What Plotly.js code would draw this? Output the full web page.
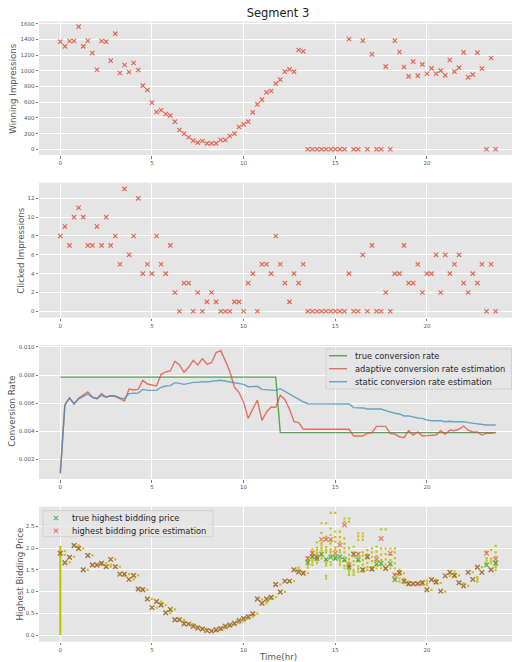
<!DOCTYPE html>
<html><head><meta charset="utf-8">
<script src="https://cdn.plot.ly/plotly-3.0.1.min.js"></script>
<style>html,body{margin:0;padding:0;background:#fff}#chart{width:512px;height:662px}</style>
</head><body><div id="chart"></div>
<script>
// ---------- data ----------
const timeHours = [0,0.25,0.5,0.75,1,1.25,1.5,1.75,2,2.25,2.5,2.75,3,3.25,3.5,3.75,4,4.25,4.5,4.75,5,5.25,5.5,5.75,
6,6.25,6.5,6.75,7,7.25,7.5,7.75,8,8.25,8.5,8.75,9,9.25,9.5,9.75,10,10.25,10.5,10.75,11,11.25,11.5,11.75,
12,12.25,12.5,12.75,13,13.25,13.5,13.75,14,14.25,14.5,14.75,15,15.25,15.5,15.75,16,16.25,16.5,16.75,17,17.25,17.5,17.75,
18,18.25,18.5,18.75,19,19.25,19.5,19.75,20,20.25,20.5,20.75,21,21.25,21.5,21.75,22,22.25,22.5,22.75,23,23.25,23.5,23.75];

const winningImpressions = [1371,1311,1379,1379,1562,1311,1383,1226,1014,1379,1371,1129,1473,972,1074,985,1099,1010,811,755,594,475,497,450,
429,352,246,199,153,110,85,106,76,76,76,119,119,170,199,284,318,352,471,573,632,726,743,836,
887,989,1019,989,1265,1248,0,0,0,0,0,0,0,0,0,1405,0,0,1384,0,1210,0,0,1053,
0,1384,1239,1048,929,1116,938,1082,963,1031,963,1002,942,1137,989,1040,1235,917,951,1231,1027,0,1163,0];

const clickedImpressions = [8,9,7,10,11,10,7,7,9,7,10,7,8,5,13,6,8,12,4,5,4,8,5,4,
7,2,0,3,3,0,2,0,1,2,1,0,0,0,1,1,0,3,4,0,5,5,4,8,
5,3,1,4,3,5,0,0,0,0,0,0,0,0,0,4,0,0,6,0,7,0,0,2,
0,4,4,7,3,3,5,2,4,4,6,2,6,4,5,6,3,2,4,3,5,0,5,0];

const trueRateTime = [0, 11.75, 12, 23.75];
const trueRate = [0.00785, 0.00785, 0.0039, 0.0039];

const adaptiveRate = [0.0010,0.00587,0.00637,0.00594,0.00634,0.00658,0.0068,0.00642,0.00632,0.00668,0.00644,0.00653,
0.00649,0.00632,0.00615,0.00701,0.00694,0.00698,0.00763,0.00736,0.00727,0.00722,0.00805,0.00822,
0.00829,0.00898,0.00872,0.0082,0.00855,0.00905,0.00872,0.00917,0.00877,0.00888,0.0096,0.00974,
0.00903,0.00824,0.00713,0.00675,0.00608,0.00492,0.00558,0.00622,0.00478,0.00537,0.00573,0.0057,
0.00656,0.00627,0.00558,0.00468,0.00461,0.00416,0.00414,0.00414,0.00414,0.00414,0.00414,0.00414,
0.00414,0.00414,0.00414,0.00414,0.00366,0.00364,0.00366,0.00385,0.0039,0.00435,0.00435,0.00435,
0.00385,0.0038,0.00361,0.00354,0.00404,0.00373,0.00395,0.00366,0.00369,0.00371,0.00373,0.00404,
0.00378,0.00409,0.00404,0.00416,0.00437,0.00407,0.00395,0.00395,0.00373,0.00385,0.00385,0.00392];

const staticRate = [0.0010,0.00587,0.00637,0.00594,0.0063,0.0065,0.00665,0.00642,0.00632,0.00656,0.00642,0.00653,
0.00649,0.00637,0.00632,0.00668,0.00668,0.00672,0.00698,0.00691,0.00691,0.00691,0.00713,0.00722,
0.00725,0.00746,0.00741,0.00734,0.00741,0.00748,0.00748,0.00753,0.00751,0.00753,0.0076,0.00763,
0.00758,0.00751,0.00746,0.00741,0.00734,0.00717,0.0072,0.0072,0.00698,0.00696,0.00696,0.00691,
0.00703,0.00684,0.00663,0.00642,0.00627,0.0061,0.00596,0.00596,0.00596,0.00596,0.00596,0.00596,
0.00596,0.00596,0.00596,0.00594,0.00568,0.00568,0.00566,0.00558,0.00558,0.00558,0.00558,0.00547,
0.00537,0.00528,0.00523,0.00509,0.00509,0.00501,0.00494,0.00492,0.0048,0.00475,0.00475,0.00475,
0.00468,0.00471,0.00468,0.00468,0.00468,0.00461,0.00456,0.00454,0.00444,0.00444,0.00444,0.00444];

const trueBid = [1.88,1.66,1.79,2.06,1.99,1.50,1.83,1.61,1.61,1.65,1.57,1.74,1.57,1.40,1.40,1.28,1.37,1.06,1.04,0.83,0.63,0.77,0.69,0.51,
0.59,0.35,0.35,0.26,0.25,0.20,0.16,0.14,0.10,0.09,0.12,0.15,0.20,0.23,0.27,0.34,0.38,0.42,0.49,0.83,0.73,0.83,0.87,1.16,
0.99,1.24,1.24,1.50,1.45,1.42,1.67,1.80,1.76,1.86,1.74,1.79,1.76,1.80,1.73,1.56,1.86,1.73,1.50,1.80,1.52,1.63,1.65,1.53,
1.64,1.27,1.43,1.24,1.18,1.18,1.18,1.20,1.04,1.27,1.22,1.01,1.36,1.44,1.37,1.20,1.13,1.44,1.28,1.56,1.44,1.61,1.50,1.65];

const estBid = [1.88,1.66,1.79,2.06,1.99,1.50,1.83,1.61,1.61,1.65,1.57,1.74,1.57,1.40,1.40,1.28,1.37,1.06,1.04,0.83,0.63,0.77,0.69,0.51,
0.59,0.35,0.35,0.26,0.25,0.20,0.16,0.14,0.10,0.09,0.12,0.15,0.20,0.23,0.27,0.32,0.38,0.42,0.49,0.83,0.73,0.83,0.87,1.16,
0.99,1.24,1.24,1.50,1.45,1.42,1.76,1.88,1.80,2.20,2.20,2.20,1.88,2.07,2.53,1.61,1.86,1.86,1.50,1.80,1.52,1.75,2.22,1.53,
1.88,1.38,1.43,1.24,1.18,1.18,1.18,1.20,1.04,1.27,1.22,1.01,1.36,1.44,1.37,1.20,1.13,1.44,1.28,1.56,1.44,1.88,1.50,1.75];

// observed bid samples (yellow dots), one list per time step from 0.25 h on
const bidSampleValues = [
[1.93,1.84],[1.67],[1.80],[2.06,2.01],[1.99],[1.50],[1.83],[1.61],[1.61,1.66],[1.65],[1.57,1.62],[1.74],
[1.57],[1.40,1.36],[1.40],[1.28],[1.37],[1.06],[1.04],[0.83],[0.63],[0.77,0.72],[0.69],[0.51,0.56],
[0.59],[0.35],[0.35,0.31],[0.26],[0.25],[0.20],[0.16],[0.14],[0.10],[0.09],[0.12],[0.15],
[0.20],[0.23],[0.27],[0.32],[0.38],[0.42,0.47],[0.49],[0.82],[0.73,0.77],[0.83],[0.87],[1.16],
[0.99],[1.24],[1.24],[1.50,1.55],[1.45],
[1.42,1.55,1.61,1.67,1.73,1.79],
[1.61,1.67,1.73,1.79,1.85,1.91,1.97],
[1.65,1.71,1.77,1.83,1.89,1.95,2.01,2.13],
[1.76,1.82,1.88,1.94,2.00,2.06,2.12,2.35,2.57],
[1.30,1.36,1.60,1.66,1.72,1.90,1.96,2.02,2.20,2.26,2.57],
[1.61,1.67,1.85,1.91,1.97,2.10,2.16,2.30,2.45,2.81],
[1.76,1.82,1.95,2.01,2.15,2.25,2.38,2.81],
[1.61,1.67,1.73,1.90,1.96,2.15,2.25,2.38],
[1.53,1.59,1.70,1.80,1.90,2.00,2.10,2.22,2.61,2.68],
[1.38,1.44,1.50,1.56,1.62,1.68,1.75,1.85,2.00,2.61,2.68],
[1.38,1.44,1.50,1.61,1.70,1.80,1.90,2.03],
[1.46,1.52,1.58,1.70,1.80,1.88,2.19,2.27,2.34],
[1.46,1.52,1.62,1.72,1.82,1.90,2.19,2.27,2.34],
[1.50,1.56,1.66,1.76,1.86,1.95],
[1.50,1.56,1.70,1.80,1.90,1.99],
[1.53,1.60,1.70,1.82,1.92,2.03],
[1.53,1.60,1.72,1.85,1.99,2.43],
[1.53,1.62,1.74,1.86,1.99,2.43],
[1.53,1.60,1.72,1.84,1.99],
[1.30,1.40,1.53,1.65,1.77,1.90,1.99],
[1.23,1.30,1.38,1.46,1.50],
[1.19,1.25,1.30,1.42],
[1.15,1.19,1.23],[1.19],[1.19],[1.15,1.19,1.23],[1.14,1.19,1.25],[1.04],[1.19,1.23,1.27],[1.20],
[1.00],[1.36,1.42],[1.34,1.40,1.46],[1.37],[1.19],[1.13],[1.44],[1.23,1.28,1.33],[1.56],
[1.65,1.71,1.77,1.92],[1.65,1.71,1.76,1.95],[1.50,1.56,1.62,1.68,1.80,1.90,2.05]];
// bid samples at 0 h span this range (drawn as a solid column)
const bidSpikeTime = [0, 0];
const bidSpikeValue = [0, 2.05];

const rateLegendLabels = ['true conversion rate', 'adaptive conversion rate estimation', 'static conversion rate estimation'];
const bidLegendLabels = ['true highest bidding price', 'highest bidding price estimation'];

// ---------- helpers ----------
const W = 512, H = 662;
const FONT = 'DejaVu Sans, Verdana, sans-serif';
const dom = (top, bottom) => [1 - bottom / H, 1 - top / H];
const px = v => v / W, py = v => 1 - v / H;
const sampleX = [], sampleY = [];
const sampleTimes = timeHours.slice(1);
bidSampleValues.forEach((vals, i) => vals.forEach(v => { sampleX.push(sampleTimes[i]); sampleY.push(v); }));

function xAxis(anchor) {
  return {domain: [39 / W, 1], range: [-1.162, 24.64], anchor: anchor,
    tickmode: 'linear', tick0: 0, dtick: 5, showgrid: true, gridcolor: '#ffffff', gridwidth: 1,
    zeroline: false, showline: false, ticks: 'outside', ticklen: 2.5, tickwidth: 0.8, tickcolor: '#555555',
    tickfont: {size: 5.5, color: '#555555', family: FONT}, fixedrange: true};
}
function yAxis(anchor, d, range, dtick, fmt) {
  return {domain: d, range: range, anchor: anchor, tickmode: 'linear', tick0: 0, dtick: dtick,
    tickformat: fmt || '', showgrid: true, gridcolor: '#ffffff', gridwidth: 1, zeroline: false, showline: false,
    ticks: 'outside', ticklen: 2.5, tickwidth: 0.8, tickcolor: '#555555',
    tickfont: {size: 5.5, color: '#555555', family: FONT}, fixedrange: true};
}

const RED = 'rgba(226,74,51,0.82)';
const GREEN_LINE = 'rgba(0,128,0,0.62)', RED_LINE = 'rgba(226,74,51,0.75)', BLUE_LINE = 'rgba(52,138,189,0.72)';
const GREEN_X = 'rgba(0,150,0,0.6)', RED_X = 'rgba(226,74,51,0.65)';
const xMarker = {symbol: 'x-thin-open', size: 4.3, color: RED, line: {width: 1.2, color: RED}};

const traces = [
  {x: timeHours, y: winningImpressions, xaxis: 'x', yaxis: 'y', type: 'scatter', mode: 'markers',
   marker: xMarker, name: 'Winning Impressions'},
  {x: timeHours, y: clickedImpressions, xaxis: 'x2', yaxis: 'y2', type: 'scatter', mode: 'markers',
   marker: xMarker, name: 'Clicked Impressions'},
  {x: trueRateTime, y: trueRate, xaxis: 'x3', yaxis: 'y3', type: 'scatter', mode: 'lines',
   line: {color: GREEN_LINE, width: 1.4}, name: rateLegendLabels[0]},
  {x: timeHours, y: adaptiveRate, xaxis: 'x3', yaxis: 'y3', type: 'scatter', mode: 'lines',
   line: {color: RED_LINE, width: 1.4}, name: rateLegendLabels[1]},
  {x: timeHours, y: staticRate, xaxis: 'x3', yaxis: 'y3', type: 'scatter', mode: 'lines',
   line: {color: BLUE_LINE, width: 1.4}, name: rateLegendLabels[2]},
  {x: bidSpikeTime, y: bidSpikeValue, xaxis: 'x4', yaxis: 'y4', type: 'scatter', mode: 'lines',
   line: {color: 'rgb(196,190,0)', width: 2}, name: 'bid samples'},
  {x: sampleX, y: sampleY, xaxis: 'x4', yaxis: 'y4', type: 'scatter', mode: 'markers',
   marker: {symbol: 'square', size: 2.2, color: 'rgba(196,190,0,0.9)', line: {width: 0}}, name: 'bid samples'},
  {x: timeHours, y: trueBid, xaxis: 'x4', yaxis: 'y4', type: 'scatter', mode: 'markers',
   marker: {symbol: 'x-thin-open', size: 4.5, color: GREEN_X, line: {width: 1.3, color: GREEN_X}},
   name: bidLegendLabels[0]},
  {x: timeHours, y: estBid, xaxis: 'x4', yaxis: 'y4', type: 'scatter', mode: 'markers',
   marker: {symbol: 'x-thin-open', size: 4.5, color: RED_X, line: {width: 1.3, color: RED_X}},
   name: bidLegendLabels[1]}
];

const titleFont = {size: 8.7, color: '#555555', family: FONT};
const legendFont = {size: 8.3, color: '#262626', family: FONT};

// compact legends (matplotlib-like spacing)
const legendBox = (l, t, r, b) => ({type: 'rect', xref: 'paper', yref: 'paper', layer: 'above',
  x0: px(l), x1: px(r), y0: py(b), y1: py(t), fillcolor: 'rgba(229,229,229,0.8)', line: {color: '#cccccc', width: 0.8}});
const rateRowY = [355.7, 368.7, 381.7];
const rateColors = [GREEN_LINE, RED_LINE, BLUE_LINE];
const bidRowY = [518, 530.7];
const bidColors = [GREEN_X, RED_X];
const shapes = [legendBox(326, 349, 511.5, 389), legendBox(43, 510.7, 213, 536.7)];
rateRowY.forEach((y, i) => shapes.push({type: 'line', xref: 'paper', yref: 'paper', layer: 'above',
  x0: px(329), x1: px(347), y0: py(y), y1: py(y), line: {color: rateColors[i], width: 1.4}}));
bidRowY.forEach((y, i) => {
  const c = 56, h = 2.1;
  shapes.push({type: 'path', xref: 'paper', yref: 'paper', layer: 'above',
    path: `M${px(c - h)},${py(y - h)} L${px(c + h)},${py(y + h)} M${px(c - h)},${py(y + h)} L${px(c + h)},${py(y - h)}`,
    line: {color: bidColors[i], width: 1.3}});
});

const annotations = [
  {text: 'Winning Impressions', x: px(12.7), y: py(88)},
  {text: 'Clicked Impressions', x: px(20.7), y: py(250)},
  {text: 'Conversion Rate', x: px(11.7), y: py(411)},
  {text: 'Highest Bidding Price', x: px(19), y: py(574.5)}
].map(a => Object.assign({xref: 'paper', yref: 'paper', textangle: -90, showarrow: false,
    xanchor: 'center', yanchor: 'middle', font: titleFont}, a));
annotations.push({text: 'Time(hr)', x: px(278), y: py(656.7), xref: 'paper', yref: 'paper', showarrow: false,
  xanchor: 'center', yanchor: 'middle', font: titleFont});
rateLegendLabels.forEach((t, i) => annotations.push({text: t, x: px(353.2), y: py(rateRowY[i]), xref: 'paper', yref: 'paper',
  showarrow: false, xanchor: 'left', yanchor: 'middle', font: legendFont}));
bidLegendLabels.forEach((t, i) => annotations.push({text: t, x: px(70.2), y: py(bidRowY[i]), xref: 'paper', yref: 'paper',
  showarrow: false, xanchor: 'left', yanchor: 'middle', font: legendFont}));

const layout = {
  width: W, height: H, margin: {l: 0, r: 0, t: 0, b: 0, pad: 0}, showlegend: false,
  paper_bgcolor: '#ffffff', plot_bgcolor: '#E5E5E5', font: {family: FONT},
  title: {text: 'Segment 3', x: px(278), xanchor: 'center', y: py(13), yanchor: 'middle',
          font: {size: 11.5, color: '#222222', family: FONT}},
  xaxis: xAxis('y'), xaxis2: xAxis('y2'), xaxis3: xAxis('y3'), xaxis4: xAxis('y4'),
  yaxis: yAxis('x', dom(21.5, 155), [-72.6, 1628], 200),
  yaxis2: yAxis('x2', dom(182.7, 317.7), [-0.68, 13.66], 2),
  yaxis3: yAxis('x3', dom(345, 479), [0.0006, 0.01014], 0.002, '.3f'),
  yaxis4: yAxis('x4', dom(506.7, 641.7), [-0.154, 2.951], 0.5, '.1f'),
  shapes: shapes,
  annotations: annotations
};

Plotly.newPlot('chart', traces, layout, {displayModeBar: false, staticPlot: true});
</script>
</body></html>
